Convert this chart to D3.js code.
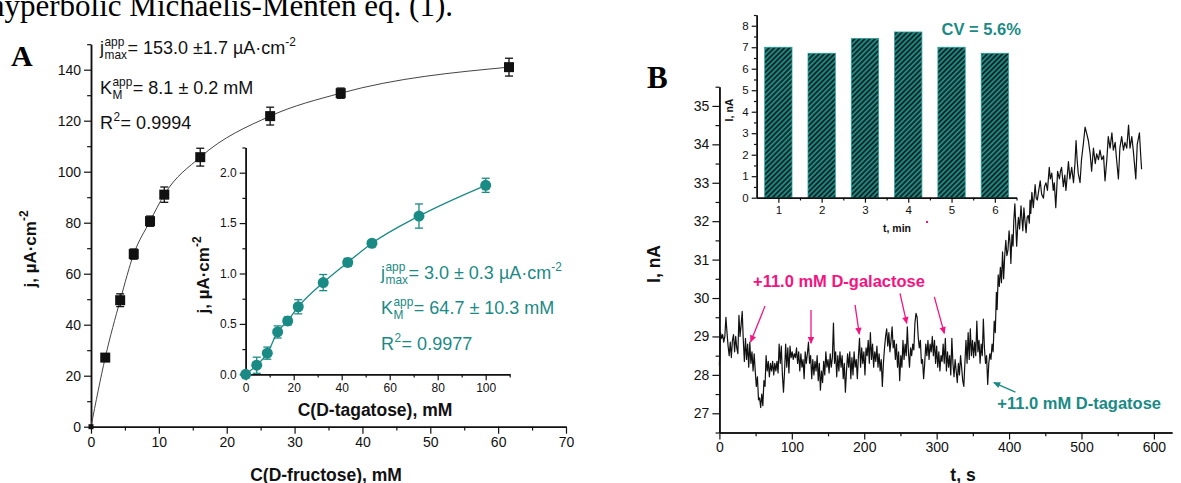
<!DOCTYPE html>
<meta charset="utf-8">
<script src="https://cdn.jsdelivr.net/npm/d3@7"></script>
<style>
  body { margin: 0; background: #fff; }
  svg { display: block; }
  text { font-family: "Liberation Sans", Arial, sans-serif; }
</style>
<div id="chart"></div>
<script>

// ---------- data ----------
// panel A, main: D-fructose calibration
var fructoseC   = [0, 2.1, 4.3, 6.3, 8.7, 10.8, 16.1, 26.4, 36.8, 61.6];
var fructoseJ   = [0, 27.1, 49.6, 67.7, 80.6, 91.0, 105.7, 121.8, 130.8, 141.0];
var fructoseErr = [0, 1.5, 2.5, 2.0, 2.0, 3.0, 3.5, 3.5, 2.0, 3.5];

// panel A, inset: D-tagatose calibration
var tagatoseC   = [0, 4.6, 9.0, 13.3, 17.5, 21.9, 32.3, 42.5, 52.6, 72.2, 100];
var tagatoseJ   = [0, 0.09, 0.21, 0.42, 0.53, 0.67, 0.91, 1.11, 1.30, 1.57, 1.875];
var tagatoseErr = [0.01, 0.08, 0.06, 0.06, 0.04, 0.07, 0.08, 0.04, 0.02, 0.12, 0.07];

// panel B, inset: repeated responses
var runs     = [1, 2, 3, 4, 5, 6];
var runI     = [7.0, 6.72, 7.41, 7.71, 7.0, 6.72];

// panel B, main: current trace [t (s), I (nA)]
var trace = [
[0,28.25],[1.5,29.1],[3,28.95],[4.5,29.05],[6,28.85],[7.5,29.0],[9,29.5],[10.5,29.1],[12,28.75],[13.5,28.5],
[15,28.85],[16.5,28.45],[18,28.9],[19.5,29.05],[21,28.6],[22.5,29.0],[24,28.7],[25.5,28.55],[27,29.55],[28.5,29.0],
[30,29.3],[31.5,29.65],[33,28.9],[34.5,28.35],[36,28.95],[37.5,28.4],[39,28.8],[40.5,28.2],[42,28.85],[43.5,28.3],
[45,28.6],[46.5,28.1],[48,28.55],[49.5,28.1],[51,27.7],[52.5,27.95],[54,27.35],[55.5,27.4],[57,27.15],[58.5,27.5],
[60,27.2],[61.5,27.85],[63,27.7],[64.5,28.5],[66,28.1],[67.5,28.35],[69,27.95],[70.5,28.3],[72,28.1],[73.5,28.35],
[75,28.0],[76.5,28.3],[78,28.1],[79.5,28.35],[81,28.05],[82.5,28.8],[84,28.3],[85.5,28.75],[87,28.0],[88.5,27.55],
[90,28.1],[91.5,28.8],[93,28.2],[94.5,28.7],[96,28.05],[97.5,28.75],[99,28.45],[100.5,28.6],[102,28.4],[103.5,28.55],
[105,28.45],[106.5,28.7],[108,28.3],[109.5,28.6],[111,28.1],[112.5,28.55],[114,28.2],[115.5,28.4],[117,27.9],[118.5,28.6],
[120,28.3],[121.5,28.55],[123,28.85],[124.5,28.3],[126,28.5],[127.5,27.9],[129,28.4],[130.5,28.0],[132,28.35],[133.5,28.1],
[135,28.5],[136.5,27.85],[138,28.3],[139.5,27.6],[141,28.1],[142.5,27.8],[144,28.35],[145.5,28.0],[147,28.6],[148.5,28.2],
[150,28.4],[151.5,28.05],[153,28.55],[154.5,28.2],[156,28.45],[157.5,29.35],[159,28.3],[160.5,28.6],[162,27.95],[163.5,28.5],
[165,28.1],[166.5,28.6],[168,28.2],[169.5,28.5],[171,27.9],[172.5,28.3],[174,27.55],[175.5,28.1],[177,28.55],[178.5,28.2],
[180,28.6],[181.5,27.9],[183,28.45],[184.5,28.0],[186,28.6],[187.5,28.2],[189,28.4],[190.5,27.9],[192,28.5],[193.5,28.95],
[195,28.2],[196.5,28.7],[198,28.3],[199.5,28.6],[201,28.0],[202.5,28.7],[204,28.5],[205.5,28.9],[207,28.3],[208.5,29.1],
[210,28.4],[211.5,28.8],[213,28.2],[214.5,28.6],[216,28.35],[217.5,28.75],[219,28.2],[220.5,28.55],[222,28.1],[223.5,28.4],
[225,27.7],[226.5,28.3],[228,28.7],[229.5,29.0],[231,29.2],[232.5,28.75],[234,29.1],[235.5,28.6],[237,28.9],[238.5,29.25],
[240,28.7],[241.5,28.9],[243,28.4],[244.5,28.8],[246,28.2],[247.5,28.6],[249,27.85],[250.5,28.5],[252,28.2],[253.5,28.9],
[255,28.4],[256.5,28.8],[258,28.5],[259.5,29.25],[261,28.6],[262.5,28.2],[264,28.7],[265.5,28.5],[267,28.8],[268.5,28.65],
[270,29.35],[271.5,29.6],[273,29.5],[274.5,29.0],[276,28.7],[277.5,28.9],[279,28.3],[280.5,28.4],[282,27.9],[283.5,28.3],
[285,28.8],[286.5,28.5],[288,28.9],[289.5,28.4],[291,28.8],[292.5,28.6],[294,29.0],[295.5,28.5],[297,28.9],[298.5,28.3],
[300,28.75],[301.5,28.2],[303,28.6],[304.5,28.1],[306,28.5],[307.5,28.35],[309,28.8],[310.5,28.3],[312,28.95],[313.5,28.1],
[315,28.6],[316.5,28.2],[318,28.5],[319.5,28.0],[321,28.95],[322.5,28.3],[324,27.95],[325.5,28.4],[327,28.1],[328.5,27.8],
[330,28.3],[331.5,28.0],[333,28.5],[334.5,28.2],[336,27.85],[337.5,27.7],[339,28.3],[340.5,28.9],[342,28.3],[343.5,29.1],
[345,28.4],[346.5,29.2],[348,28.5],[349.5,28.9],[351,28.45],[352.5,28.85],[354,28.5],[355.5,29.4],[357,28.6],[358.5,28.9],
[360,28.3],[361.5,28.8],[363,28.5],[364.5,29.45],[366,28.7],[367.5,28.3],[369,28.5],[370.5,27.75],[372,28.3],[373.5,28.55],
[375,28.4],[376.5,28.8],[378,28.6],[379.5,29.4],[381,29.1],[382.5,30.15],[383.5,29.7],[385,30.6],[386.5,30.3],[388,30.8],
[389.5,30.4],[391,31.2],[392.5,30.5],[394,31.1],[395.5,31.5],[397,31.1],[398.5,31.25],[400,31.75],[401.5,31.4],[402.5,30.9],
[404,31.65],[405.5,31.35],[406.5,32.0],[408,32.45],[409.5,31.8],[410.5,31.35],[412,31.9],[413,32.1],[414.5,31.8],[416.5,32.4],
[418,32.0],[419,31.75],[420.5,32.35],[422,32.0],[423.5,31.7],[425,32.1],[426.5,32.15],[428,31.95],[429,32.55],[430,32.2],
[431.5,32.75],[433.5,32.35],[436,32.95],[437.5,32.6],[439,32.55],[441,32.8],[443,33.05],[445,32.7],[447.5,32.6],[449,32.9],
[451,33.0],[453,32.8],[455.5,33.4],[457,33.1],[459,33.25],[461,32.8],[462.5,33.0],[464.5,32.35],[466,32.9],[467,33.3],
[469.5,33.1],[471,33.3],[472.5,33.4],[475,32.9],[477,33.2],[478.5,32.8],[480,33.1],[482,33.55],[484,33.1],[486.5,33.4],
[489,33.0],[491,33.5],[492.5,34.1],[494,33.6],[495.5,33.25],[498,33.0],[500,33.6],[502.5,34.0],[505,34.45],[507,34.3],
[509.5,34.1],[512,33.75],[514,33.3],[516.5,33.9],[519,33.5],[521,33.75],[523.5,33.6],[525.5,33.85],[528,33.6],[530.5,33.7],
[532.5,33.05],[535,33.6],[537,34.2],[539.5,33.9],[542,34.3],[544,33.85],[546.5,34.05],[548.5,33.6],[551,33.1],[553,33.9],
[555.5,34.2],[558,33.85],[560,34.05],[562.5,33.9],[565,34.5],[567,33.9],[569.5,34.2],[571.5,33.85],[575,33.1],[577,34.0],
[580,34.3],[582,33.65],[583,33.35]
];

// arrows in panel B: [t from, I from, t to, I to]
var galactoseArrows = [[63,29.79,43.2,28.86],[126.5,29.69,126.5,28.82],[187.3,29.82,193.2,29.06],
                       [249.4,30.12,258.7,29.34],[296.8,30.03,310.6,29.08]];
var tagatoseArrow = [408.8,27.55,378.9,27.8];

var teal = "#1a8a85", pink = "#f5147f";

var svg = d3.select("#chart").append("svg").attr("width", 1181).attr("height", 483);
var defs = svg.append("defs");

function arrowMarker(id, color) {
  defs.append("marker").attr("id", id)
    .attr("viewBox", "0 0 10 10").attr("refX", 9).attr("refY", 5)
    .attr("markerUnits", "userSpaceOnUse")
    .attr("markerWidth", 8).attr("markerHeight", 7)
    .attr("orient", "auto")
    .append("path").attr("d", "M0,0.5 L10,5 L0,9.5 Z").attr("fill", color);
}
arrowMarker("arPink", pink);
arrowMarker("arTeal", teal);

var pat = defs.append("pattern").attr("id", "hatch")
  .attr("patternUnits", "userSpaceOnUse").attr("width", 3.6).attr("height", 3.6)
  .attr("patternTransform", "rotate(45)");
pat.append("rect").attr("width", 3.6).attr("height", 3.6).attr("fill", teal);
pat.append("line").attr("x1", 1.8).attr("y1", 0).attr("x2", 1.8).attr("y2", 3.6)
  .attr("stroke", "#111").attr("stroke-width", 1.5);

// draws an axis with major (labelled) and minor ticks
function axis(orient, pos, scale, major, minor, fmt, fs, tl) {
  var mk = orient == "left" ? d3.axisLeft : d3.axisBottom;
  var tr = orient == "left" ? "translate(" + pos + ",0)" : "translate(0," + pos + ")";
  var g = svg.append("g").attr("transform", tr);
  g.append("g").call(mk(scale).tickValues(minor).tickSize(tl * 0.55).tickSizeOuter(0).tickFormat(""));
  g.append("g").call(mk(scale).tickValues(major).tickSize(tl).tickSizeOuter(0).tickFormat(fmt).tickPadding(3));
  g.selectAll("path.domain").attr("stroke", "#111").attr("stroke-width", 1.5);
  g.selectAll(".tick line").attr("stroke", "#111").attr("stroke-width", 1.2);
  g.selectAll("text").attr("font-size", fs).attr("fill", "#111")
    .style("font-family", '"Liberation Sans", Arial, sans-serif');
  return g;
}

function title(x, y, rot, txt, sup, fs) {
  var t = svg.append("text").attr("transform", "translate(" + x + "," + y + ") rotate(" + rot + ")")
    .attr("text-anchor", "middle").attr("font-weight", "bold").attr("font-size", fs).attr("fill", "#111")
    .text(txt);
  if (sup) t.append("tspan").attr("dy", -fs * 0.45).attr("font-size", fs * 0.7).text(sup);
}

// "j^app_max= ..." style label
function param(x, y, base, sup, sub, rest, restSup, fs, color) {
  var g = svg.append("g").attr("fill", color).attr("font-size", fs);
  var b = g.append("text").attr("x", x).attr("y", y).text(base);
  var w = b.node().getComputedTextLength();
  var s = g.append("text").attr("x", x + w + 0.5).attr("y", y - fs * 0.45).attr("font-size", fs * 0.66).text(sup);
  var w2 = s.node().getComputedTextLength();
  if (sub) {
    var u = g.append("text").attr("x", x + w + 0.5).attr("y", y + fs * 0.3).attr("font-size", fs * 0.66).text(sub);
    w2 = Math.max(w2, u.node().getComputedTextLength());
  }
  var r = g.append("text").attr("x", x + w + w2 + 1).attr("y", y).text(rest);
  if (restSup) r.append("tspan").attr("dy", -fs * 0.45).attr("font-size", fs * 0.66).text(restSup);
}

// heading fragment of page text and panel letters
svg.append("text").attr("x", 453).attr("y", 16).attr("text-anchor", "end")
  .style("font-family", '"Liberation Serif", "Times New Roman", serif').attr("font-size", 31)
  .text("hyperbolic Michaelis-Menten eq. (1).");
svg.append("text").attr("x", 11).attr("y", 66)
  .style("font-family", '"Liberation Serif", "Times New Roman", serif').attr("font-size", 30).attr("font-weight", "bold")
  .text("A");
svg.append("text").attr("x", 647).attr("y", 88)
  .style("font-family", '"Liberation Serif", "Times New Roman", serif').attr("font-size", 31).attr("font-weight", "bold")
  .text("B");

// ================= panel A main =================
var xA = d3.scaleLinear().domain([0, 70]).range([91, 566]);
var yA = d3.scaleLinear().domain([0, 150]).range([426.7, 44.2]);
axis("bottom", yA(0), xA, d3.range(0, 71, 10), d3.range(5, 70, 10), d3.format("d"), 14, 7);
axis("left", xA(0), yA, d3.range(0, 141, 20), d3.range(10, 151, 20), d3.format("d"), 14, 7);

var fru = fructoseC.map(function(c, i) { return {c: c, j: fructoseJ[i], e: fructoseErr[i]}; });
svg.append("path").datum(fru)
  .attr("d", d3.line().x(function(d) { return xA(d.c); }).y(function(d) { return yA(d.j); }).curve(d3.curveMonotoneX))
  .attr("fill", "none").attr("stroke", "#444").attr("stroke-width", 1);
var eb = svg.append("g").attr("stroke", "#111").attr("stroke-width", 1.3);
fru.forEach(function(d) {
  if (!d.e) return;
  eb.append("line").attr("x1", xA(d.c)).attr("x2", xA(d.c)).attr("y1", yA(d.j - d.e)).attr("y2", yA(d.j + d.e));
  [d.j - d.e, d.j + d.e].forEach(function(v) {
    eb.append("line").attr("x1", xA(d.c) - 4).attr("x2", xA(d.c) + 4).attr("y1", yA(v)).attr("y2", yA(v));
  });
});
svg.append("g").selectAll("rect").data(fru).enter().append("rect")
  .attr("x", function(d) { return xA(d.c) - (d.c ? 5 : 2.5); })
  .attr("y", function(d) { return yA(d.j) - (d.c ? 5 : 2.5); })
  .attr("width", function(d) { return d.c ? 10 : 5; })
  .attr("height", function(d) { return d.c ? 10 : 5; })
  .attr("fill", "#111");

param(100, 54, "j", "app", "max", "= 153.0 ±1.7 µA·cm", "-2", 18, "#111");
param(100, 94, "K", "app", "M", "= 8.1 ± 0.2 mM", null, 18, "#111");
param(100, 129, "R", "2", null, "= 0.9994", null, 18, "#111");

title(36, 249, -90, "j, µA·cm", "-2", 17);
title(326, 481, 0, "C(D-fructose), mM", null, 17.5);

// ================= panel A inset =================
var xI = d3.scaleLinear().domain([0, 110]).range([245.7, 509.7]);
var yI = d3.scaleLinear().domain([0, 2.25]).range([374.3, 147.5]);
axis("bottom", yI(0), xI, d3.range(0, 101, 20), d3.range(10, 111, 20), d3.format("d"), 12, 6);
axis("left", xI(0), yI, [0, 0.5, 1.0, 1.5, 2.0], [0.25, 0.75, 1.25, 1.75, 2.25], d3.format(".1f"), 12, 6);

var tag = tagatoseC.map(function(c, i) { return {c: c, j: tagatoseJ[i], e: tagatoseErr[i]}; });
svg.append("path").datum(tag)
  .attr("d", d3.line().x(function(d) { return xI(d.c); }).y(function(d) { return yI(d.j); }).curve(d3.curveMonotoneX))
  .attr("fill", "none").attr("stroke", teal).attr("stroke-width", 1.3);
var eb2 = svg.append("g").attr("stroke", teal).attr("stroke-width", 1.3);
tag.forEach(function(d) {
  eb2.append("line").attr("x1", xI(d.c)).attr("x2", xI(d.c)).attr("y1", yI(d.j - d.e)).attr("y2", yI(d.j + d.e));
  [d.j - d.e, d.j + d.e].forEach(function(v) {
    eb2.append("line").attr("x1", xI(d.c) - 4).attr("x2", xI(d.c) + 4).attr("y1", yI(v)).attr("y2", yI(v));
  });
});
svg.append("g").selectAll("circle").data(tag).enter().append("circle")
  .attr("cx", function(d) { return xI(d.c); }).attr("cy", function(d) { return yI(d.j); })
  .attr("r", 5.5).attr("fill", teal);

param(381, 279, "j", "app", "max", "= 3.0 ± 0.3 µA·cm", "-2", 18, teal);
param(381, 314, "K", "app", "M", "= 64.7 ± 10.3 mM", null, 18, teal);
param(381, 350, "R", "2", null, "= 0.9977", null, 18, teal);

title(209, 275, -90, "j, µA·cm", "-2", 17);
title(375, 416, 0, "C(D-tagatose), mM", null, 17.5);

// ================= panel B main =================
var xB = d3.scaleLinear().domain([0, 625]).range([719.4, 1172]);
var yB = d3.scaleLinear().domain([26.5, 35.5]).range([432.5, 86.7]);
axis("bottom", yB(26.5), xB, d3.range(0, 601, 100), d3.range(50, 625, 100), d3.format("d"), 14, 7);
axis("left", xB(0), yB, d3.range(27, 35.1, 1), d3.range(26.5, 35.6, 1), d3.format("d"), 14, 7);

svg.append("path").datum(trace)
  .attr("d", d3.line().x(function(d) { return xB(d[0]); }).y(function(d) { return yB(d[1]); }))
  .attr("fill", "none").attr("stroke", "#111").attr("stroke-width", 1.2).attr("stroke-linejoin", "round");

svg.append("g").selectAll("line").data(galactoseArrows).enter().append("line")
  .attr("x1", function(d) { return xB(d[0]); }).attr("y1", function(d) { return yB(d[1]); })
  .attr("x2", function(d) { return xB(d[2]); }).attr("y2", function(d) { return yB(d[3]); })
  .attr("stroke", pink).attr("stroke-width", 1.3).attr("marker-end", "url(#arPink)");
svg.append("line")
  .attr("x1", xB(tagatoseArrow[0])).attr("y1", yB(tagatoseArrow[1]))
  .attr("x2", xB(tagatoseArrow[2])).attr("y2", yB(tagatoseArrow[3]))
  .attr("stroke", teal).attr("stroke-width", 1.3).attr("marker-end", "url(#arTeal)");

svg.append("text").attr("x", xB(46.4)).attr("y", yB(30.28))
  .attr("font-size", 16.5).attr("font-weight", "bold").attr("fill", pink).text("+11.0 mM D-galactose");
svg.append("text").attr("x", xB(496.8)).attr("y", yB(27.11)).attr("text-anchor", "middle")
  .attr("font-size", 16.5).attr("font-weight", "bold").attr("fill", teal).text("+11.0 mM D-tagatose");

title(660, 264, -90, "I, nA", null, 17.5);
title(963, 481, 0, "t, s", null, 17.5);

// ================= panel B inset =================
var xC = d3.scaleLinear().domain([0.5, 6.5]).range([756.7, 1016.5]);
var yC = d3.scaleLinear().domain([0, 8.5]).range([197.7, 15]);
var barW = 27.3;
svg.append("g").selectAll("rect").data(runs).enter().append("rect")
  .attr("x", function(d) { return xC(d) - barW / 2; })
  .attr("y", function(d, i) { return yC(runI[i]); })
  .attr("width", barW)
  .attr("height", function(d, i) { return yC(0) - yC(runI[i]); })
  .attr("fill", "url(#hatch)").attr("stroke", "#2aa09a").attr("stroke-width", 0.8);
axis("bottom", yC(0), xC, runs, [1.5, 2.5, 3.5, 4.5, 5.5, 6.5], d3.format("d"), 11.5, 5);
axis("left", xC(0.5), yC, d3.range(0, 8.1, 1), d3.range(0.5, 8.6, 1), d3.format("d"), 11.5, 5);

svg.append("text").attr("x", xC(4.77)).attr("y", yC(7.57))
  .attr("font-size", 16.5).attr("font-weight", "bold").attr("fill", teal).text("CV = 5.6%");
title(733, 110, -90, "I, nA", null, 10.5);
title(897, 232, 0, "t, min", null, 10.5);

// stray pink speck in the original
svg.append("rect").attr("x", 926).attr("y", 221).attr("width", 2).attr("height", 2).attr("fill", pink);

</script>
